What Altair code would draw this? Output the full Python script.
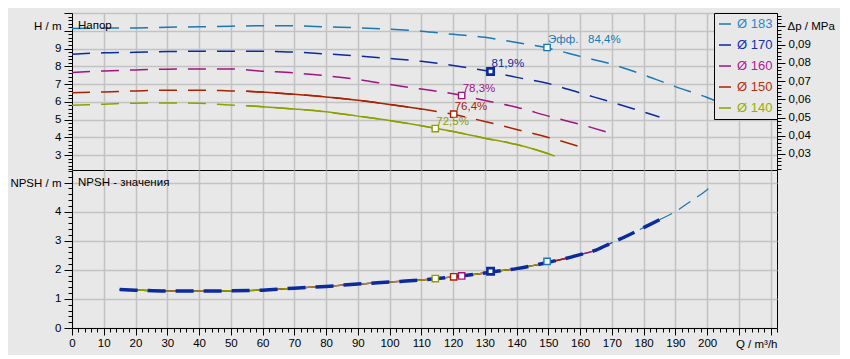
import altair as alt
import pandas as pd

# ---------------- data ----------------
diam = ["Ø 183", "Ø 170", "Ø 160", "Ø 150", "Ø 140"]
line_colors = ["#1a78b4", "#0a2a9e", "#a01480", "#aa2200", "#8ea000"]

q183 = [0, 10, 20, 30, 40, 50, 60, 70, 80, 90, 100, 110, 120, 130, 140, 150, 160, 170, 180, 190, 200, 205]
h183 = [10.13, 10.15, 10.16, 10.20, 10.22, 10.26, 10.28, 10.28, 10.22, 10.17, 10.09, 9.98, 9.80, 9.63, 9.34, 9.02, 8.56, 8.12, 7.52, 6.86, 6.25, 5.90]

q170 = [0, 10, 20, 30, 40, 50, 60, 70, 80, 90, 100, 110, 120, 130, 140, 150, 160, 170, 180, 185]
h170 = [8.68, 8.76, 8.79, 8.83, 8.85, 8.85, 8.85, 8.80, 8.70, 8.58, 8.44, 8.28, 8.05, 7.76, 7.38, 7.03, 6.50, 5.98, 5.43, 5.15]

q160 = [0, 10, 20, 30, 40, 50, 60, 70, 80, 90, 100, 110, 120, 130, 140, 150, 160, 170]
h160 = [7.66, 7.74, 7.80, 7.84, 7.85, 7.85, 7.73, 7.63, 7.47, 7.26, 6.98, 6.72, 6.46, 6.08, 5.70, 5.20, 4.74, 4.22]

q150 = [0, 10, 20, 30, 40, 50, 55, 60, 70, 80, 90, 100, 110, 120, 130, 140, 150, 160]
h150 = [6.52, 6.56, 6.62, 6.66, 6.66, 6.62, 6.60, 6.55, 6.43, 6.28, 6.09, 5.86, 5.60, 5.30, 4.90, 4.45, 4.00, 3.48]

q140 = [0, 10, 20, 30, 40, 50, 55, 60, 70, 80, 90, 100, 110, 120, 130, 140, 150, 152]
h140 = [5.81, 5.87, 5.93, 5.94, 5.93, 5.82, 5.79, 5.73, 5.60, 5.44, 5.20, 4.95, 4.66, 4.33, 3.96, 3.60, 3.08, 2.95]

# solid (non-dashed) part of some head curves
solid_d = ["Ø 150", "Ø 140"]
solid_from = [55, 55]
solid_to = [110, 152]

# best efficiency points
eff_q = [149.6, 131.8, 122.7, 120.2, 114.4]
eff_h = [9.06, 7.71, 6.36, 5.31, 4.50]
eff_npsh = [2.29, 1.95, 1.79, 1.76, 1.70]
eff_text = ["Эфф.\u00a0\u00a0\u00a084,4%", "81,9%", "78,3%", "76,4%", "72,5%"]

# NPSH curve (common), with max flow of every impeller
npsh_q = [15, 20, 30, 40, 50, 60, 70, 80, 90, 100, 110, 115, 120, 125, 130, 135, 140, 145, 150, 155,
          160, 165, 170, 175, 180, 185, 190, 195, 200, 202]
npsh_v = [1.32, 1.30, 1.27, 1.27, 1.28, 1.30, 1.37, 1.43, 1.51, 1.58, 1.65, 1.70, 1.76, 1.82, 1.89, 1.97,
          2.04, 2.14, 2.26, 2.38, 2.52, 2.68, 2.93, 3.18, 3.45, 3.72, 4.00, 4.37, 4.75, 4.95]
npsh_qmax = [202, 188, 170, 160, 152]

# axis ranges / ticks
q_range = [0, 222]
h_range = [2.17, 11.0]
dp_range = [0.0212, 0.1074]
npsh_range = [0, 5.43]
x_minor = list(range(0, 223, 2))
x_major = list(range(10, 221, 10))
h_ticks = [round(2.2 + 0.2 * i, 1) for i in range(45)]
dp_ticks = [round(0.022 + 0.002 * i, 3) for i in range(43)]
npsh_ticks = [round(0.2 * i, 1) for i in range(28)]

# notes
note_top = ["Напор"]
note_top_q = [1.9]
note_top_h = [10.28]
note_bot = ["NPSH - значения"]
note_bot_q = [1.9]
note_bot_v = [4.99]

# ---------------- tables ----------------
rows = []
for d, qs, hs in zip(diam, [q183, q170, q160, q150, q140], [h183, h170, h160, h150, h140]):
    for q, h in zip(qs, hs):
        rows.append({"d": d, "Q": q, "H": h})
df_h = pd.DataFrame(rows)

solid_parts = []
for d, lo, hi in zip(solid_d, solid_from, solid_to):
    solid_parts.append(df_h[(df_h.d == d) & (df_h.Q >= lo) & (df_h.Q <= hi)])
df_solid = pd.concat(solid_parts)

df_eff = pd.DataFrame({"d": diam, "Q": eff_q, "H": eff_h, "N": eff_npsh, "t": eff_text})

nrows = []
for d, qm in zip(diam, npsh_qmax):
    for q, v in zip(npsh_q, npsh_v):
        if q <= qm:
            nrows.append({"d": d, "Q": q, "N": v})
df_n = pd.DataFrame(nrows)
thin_order = ["Ø 160", "Ø 150", "Ø 140"]
df_n_thin = pd.concat([df_n[df_n.d == d] for d in thin_order])
df_n_183 = df_n[df_n.d == "Ø 183"]
df_n_170 = df_n[df_n.d == "Ø 170"]

df_dp = pd.DataFrame({"Q": [0, 0], "dp": dp_range})
df_note_top = pd.DataFrame({"Q": note_top_q, "H": note_top_h, "t": note_top})
df_note_bot = pd.DataFrame({"Q": note_bot_q, "N": note_bot_v, "t": note_bot})

# ---------------- encodings ----------------
FONT = "Liberation Sans"
FS = 11.5
color_scale = alt.Scale(domain=diam, range=line_colors)
label_expr_color = ("datum.label == 'Ø 183' ? '#2a88cc' : datum.label == 'Ø 170' ? '#1030b0' : "
                    "datum.label == 'Ø 160' ? '#b0209a' : datum.label == 'Ø 150' ? '#b83010' : '#98ae00'")
color_leg = alt.Color("d:N", scale=color_scale,
                      legend=alt.Legend(title=None, labelColor=alt.ExprRef(expr=label_expr_color)))
color_nol = alt.Color("d:N", scale=color_scale, legend=None)

is_int = "abs(datum.value - round(datum.value)) < 0.001"
is_10 = "datum.value % 10 == 0"
is_dp = "abs(datum.value * 100 - round(datum.value * 100)) < 0.001"

show_h = f"({is_int}) && datum.value < 9.5"
show_n = f"({is_int}) && datum.value < 4.5"
show_x = f"({is_10}) && datum.value <= 200"
show_dp = f"({is_dp}) && datum.value < 0.095"


def fs_cond(test):
    return {"condition": {"test": test, "value": FS}, "value": 0}


x_top = alt.X("Q:Q", scale=alt.Scale(domain=q_range, nice=False, zero=False),
              axis=alt.Axis(values=x_major, labels=False, ticks=False, domain=False, grid=True, title=None))

h_axis = alt.Axis(values=h_ticks, labelOverlap=False, labelFlush=False,
                  labelExpr=f"{show_h} ? format(datum.value, 'd') : ''",
                  labelFontSize=fs_cond(show_h),
                  tickSize={"condition": {"test": is_int, "value": 8}, "value": 4},
                  grid=True, gridOpacity={"condition": {"test": is_int, "value": 1}, "value": 0},
                  labelPadding=3, title="H / m", titleAngle=0, titleAlign="right",
                  titleBaseline="middle", titleX=-11, titleY=13)
y_h = alt.Y("H:Q", scale=alt.Scale(domain=h_range, nice=False, zero=False), axis=h_axis)

dp_axis = alt.Axis(orient="right", values=dp_ticks, labelOverlap=False, labelFlush=False,
                   labelExpr=f"{show_dp} ? replace(format(datum.value, '.2f'), '.', ',') : ''",
                   labelFontSize=fs_cond(show_dp),
                   tickSize={"condition": {"test": is_dp, "value": 8}, "value": 4},
                   grid=False, labelPadding=3, title="Δp / MPa", titleAngle=0, titleAlign="left",
                   titleBaseline="middle", titleX=10, titleY=13)

x_bot = alt.X("Q:Q", scale=alt.Scale(domain=q_range, nice=False, zero=False),
              axis=alt.Axis(values=x_minor, labelOverlap=False, labelFlush=False,
                            labelExpr=f"{show_x} ? format(datum.value, 'd') : ''",
                            labelFontSize=fs_cond(show_x),
                            tickSize={"condition": {"test": is_10, "value": 7}, "value": 4},
                            grid=True, gridOpacity={"condition": {"test": is_10, "value": 1}, "value": 0},
                            labelPadding=2, title="Q / m³/h", titleAlign="right", titleBaseline="middle",
                            titleX=705, titleY=16))

n_axis = alt.Axis(values=npsh_ticks, labelOverlap=False, labelFlush=False,
                  labelExpr=f"{show_n} ? format(datum.value, 'd') : ''",
                  labelFontSize=fs_cond(show_n),
                  tickSize={"condition": {"test": is_int, "value": 8}, "value": 4},
                  grid=True, gridOpacity={"condition": {"test": is_int, "value": 1}, "value": 0},
                  labelPadding=3, title="NPSH / m", titleAngle=0, titleAlign="right",
                  titleBaseline="middle", titleX=-11, titleY=13)
y_n = alt.Y("N:Q", scale=alt.Scale(domain=npsh_range, nice=False, zero=False), axis=n_axis)

DASH = [18, 11]

# ---------------- top panel ----------------
h_lines = alt.Chart(df_h).mark_line(strokeWidth=1.5, strokeDash=DASH, interpolate="monotone").encode(
    x=x_top, y=y_h, color=color_leg, detail="d:N")
h_solid = alt.Chart(df_solid).mark_line(strokeWidth=1.5, interpolate="monotone").encode(
    x=x_top, y=y_h, color=color_nol, detail="d:N")
h_marks = alt.Chart(df_eff).mark_point(shape="square", filled=False, fill="white", fillOpacity=1,
                                       size=40, opacity=1).encode(
    x=x_top, y=y_h, color=color_nol,
    strokeWidth=alt.condition(alt.datum.d == "Ø 170", alt.value(2.6), alt.value(1.4)))
h_text = alt.Chart(df_eff).mark_text(align="left", baseline="alphabetic", dx=1, dy=-4,
                                     font=FONT, fontSize=FS).encode(
    x=x_top, y=y_h, text="t:N", color=color_nol)
h_note = alt.Chart(df_note_top).mark_text(align="left", baseline="middle", font=FONT, fontSize=FS,
                                          color="black").encode(x=x_top, y=y_h, text="t:N")

h_layers = alt.layer(h_lines, h_solid, h_marks, h_text, h_note)
dp_layer = alt.Chart(df_dp).mark_point(opacity=0).encode(
    x=x_top, y=alt.Y("dp:Q", scale=alt.Scale(domain=dp_range, nice=False, zero=False), axis=dp_axis))

top = alt.layer(h_layers, dp_layer).resolve_scale(y="independent").properties(width=705, height=157)

# ---------------- bottom panel ----------------
n_183 = alt.Chart(df_n_183).mark_line(strokeWidth=1.2, strokeDash=[14, 8], interpolate="monotone").encode(
    x=x_bot, y=y_n, color=color_nol)
n_thin = alt.Chart(df_n_thin).mark_line(strokeWidth=1.3, interpolate="monotone").encode(
    x=x_bot, y=y_n, color=color_nol, detail="d:N")
n_170 = alt.Chart(df_n_170).mark_line(strokeWidth=3.5, strokeDash=[18, 10], interpolate="monotone").encode(
    x=x_bot, y=y_n, color=color_nol)
n_marks = alt.Chart(df_eff).mark_point(shape="square", filled=False, fill="white", fillOpacity=1,
                                       size=40, opacity=1).encode(
    x=x_bot, y=y_n, color=color_nol,
    strokeWidth=alt.condition(alt.datum.d == "Ø 170", alt.value(2.6), alt.value(1.4)))
n_note = alt.Chart(df_note_bot).mark_text(align="left", baseline="middle", font=FONT, fontSize=FS,
                                          color="black").encode(x=x_bot, y=y_n, text="t:N")

bottom = alt.layer(n_183, n_thin, n_170, n_marks, n_note).properties(width=705, height=158)

chart = alt.vconcat(top, bottom, spacing=0, bounds="flush").properties(
    background="#e8e8e8",
    padding={"left": 1, "top": 1, "right": 5, "bottom": 5},
).configure_view(
    stroke="black", strokeWidth=1
).configure_axis(
    labelFont=FONT, labelColor="black",
    titleFont=FONT, titleFontSize=FS, titleFontWeight="normal", titleColor="black",
    tickColor="black", tickWidth=1, domainColor="black", domainWidth=1,
    gridColor="#c2c2c2", gridWidth=1.5,
).configure_legend(
    orient="top-right", offset=0, fillColor="#e8e8e8", strokeColor="black", padding=4,
    symbolType="stroke", symbolSize=144, symbolStrokeWidth=1.5, symbolDash=[20, 0],
    labelFont=FONT, labelFontSize=13, labelOffset=5, rowPadding=7,
)

chart.save("out.html", embed_options={"renderer": "svg", "actions": False})
